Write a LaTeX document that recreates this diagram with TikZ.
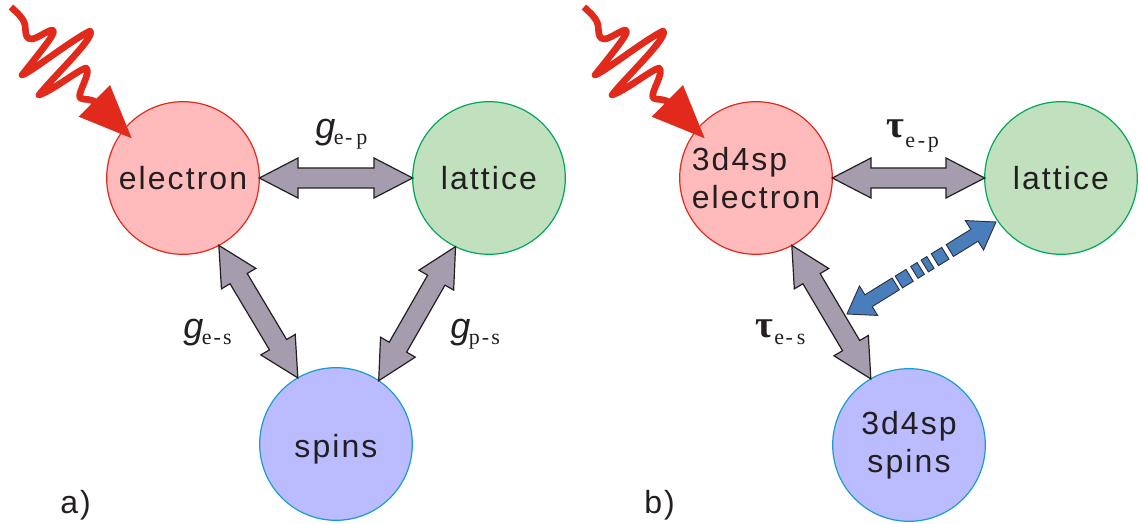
\documentclass[tikz,border=0pt]{standalone}
\usepackage{fontspec}
\usetikzlibrary{calc}
\setmainfont{Liberation Sans}
\newfontfamily\lblfont[LetterSpace=6.5]{Liberation Sans}
\newfontfamily\subfont{Liberation Serif}
\definecolor{redline}{HTML}{E12A1C}
\definecolor{redfill}{HTML}{FFBBBB}
\definecolor{greenline}{HTML}{00A85A}
\definecolor{greenfill}{HTML}{C0E0BE}
\definecolor{blueline}{HTML}{1A9CD0}
\definecolor{bluefill}{HTML}{BBBBFF}
\definecolor{arrowgray}{HTML}{A59DAD}
\definecolor{arrowblue}{HTML}{4A7DBB}
\definecolor{txt}{HTML}{231F20}
\tikzset{
  px/.style={x=0.75pt,y=-0.75pt},
  ball/.style={circle,inner sep=0pt,outer sep=0pt,minimum size=114.5pt,line width=0.9pt,align=center,text=txt,font=\lblfont\fontsize{24}{28}\selectfont},
  eball/.style={ball,draw=redline,fill=redfill},
  lball/.style={ball,draw=greenline,fill=greenfill},
  sball/.style={ball,draw=blueline,fill=bluefill},
  dblarrow/.style={draw=txt,fill=arrowgray,line width=0.9pt,line join=miter},
  bluearrow/.style={draw=txt!80!arrowblue,fill=arrowblue,line width=0.7pt,line join=miter},
  wave/.style={draw=redline,line width=5pt,line cap=butt,line join=round},
  wavehead/.style={fill=redline},
  sym/.style={inner sep=0pt,text=txt,anchor=base west},
  panel/.style={inner sep=0pt,text=txt,font=\lblfont\fontsize{24}{28}\selectfont,anchor=base west}
}
% double-headed block arrow between two named points
\newcommand{\blockarrow}[3][dblarrow]{%
  \draw[#1]
    (#2) -- ($(#2)!29pt!(#3)!15pt!90:(#3)$) -- ($(#2)!29pt!(#3)!7.5pt!90:(#3)$)
    -- ($(#3)!29pt!(#2)!7.5pt!-90:(#2)$) -- ($(#3)!29pt!(#2)!15pt!-90:(#2)$)
    -- (#3) -- ($(#3)!29pt!(#2)!15pt!90:(#2)$) -- ($(#3)!29pt!(#2)!7.5pt!90:(#2)$)
    -- ($(#2)!29pt!(#3)!7.5pt!-90:(#3)$) -- ($(#2)!29pt!(#3)!15pt!-90:(#3)$) -- cycle;}
% piece of the blue shaft between fractions #3 and #4 of the way from #1 to #2
\newcommand{\bluedash}[4]{%
  \draw[bluearrow]
    ($(#1)!#3!(#2)!5.2pt!90:(#2)$) -- ($(#1)!#4!(#2)!5.2pt!90:(#2)$)
    -- ($(#1)!#4!(#2)!5.2pt!-90:(#2)$) -- ($(#1)!#3!(#2)!5.2pt!-90:(#2)$) -- cycle;}
% arrow head and stub at end #1, shaft running to fraction #3 of the way to #2
\newcommand{\bluehead}[3]{%
  \draw[bluearrow]
    (#1) -- ($(#1)!19pt!(#2)!13pt!90:(#2)$) -- ($(#1)!19pt!(#2)!5.2pt!90:(#2)$)
    -- ($(#1)!#3!(#2)!5.2pt!90:(#2)$) -- ($(#1)!#3!(#2)!5.2pt!-90:(#2)$)
    -- ($(#1)!19pt!(#2)!5.2pt!-90:(#2)$) -- ($(#1)!19pt!(#2)!13pt!-90:(#2)$) -- cycle;}
\newcommand{\subtext}[2][-4.5pt]{\raisebox{#1}{\subfont\fontsize{16.5}{18}\selectfont #2}}
\newcommand{\gsym}[1]{{\fontsize{27}{30}\selectfont\itshape g}\kern-1pt\subtext{#1}}
\newcommand{\tausym}[2][-5.2pt]{{\subfont\fontsize{29}{32}\selectfont\bfseries τ}\kern1pt\subtext[#1]{#2}}
\newcommand{\photon}[1]{%
  \begin{scope}[shift={(#1,0)}]
    \draw[wave] (11,7) .. controls (17,13) and (23,17) .. (25,25)
      .. controls (26,36) and (26,39) .. (32,39)
      .. controls (38,38) and (47,31) .. (52,30)
      .. controls (57,31) and (50,40) .. (22,75)
      .. controls (30,73) and (70,41) .. (90,31)
      .. controls (97,36) and (50,80) .. (39,95)
      .. controls (52,91) and (78,70) .. (86,68)
      .. controls (92,72) and (77,93) .. (80,98)
      .. controls (84,101) and (92,96) .. (103,108);
    \fill[wavehead] (131.7,138.3) -- (110,85) -- (78.7,116.7) -- cycle;
  \end{scope}}
\begin{document}
\begin{tikzpicture}[px]
\useasboundingbox (0,0) rectangle (1140,524);
% panel a
\node[eball] (e1) at (183,178) {electron};
\node[lball] (l1) at (489,178) {lattice};
\node[sball] (s1) at (336,444) {\smash{\raisebox{-3.75pt}{spins}}\vphantom{spins}};
\photon{0}
\blockarrow{e1.0}{l1.180}
\blockarrow{e1.-62}{s1.120}
\blockarrow{l1.-116}{s1.56}
\node[sym] (g1) at (315,139) {\gsym{e\kern1pt-\kern3pt p}};
\node[sym] (g2) at (183,339) {\gsym{e\kern1.5pt-\kern1.5pt s}};
\node[sym] (g3) at (450,339) {\gsym{p\kern1.5pt-\kern1.5pt s}};
\node[panel] (pa) at (60,513) {a)};
% panel b
\node[eball,align=left] (e2) at (756,178) {3d4sp\\[0.5pt]electron};
\node[lball] (l2) at (1061,178) {lattice};
\node[sball] (s2) at (909,445) {3d4sp\\[0.5pt]spins};
\photon{573}
\blockarrow{e2.0}{l2.180}
\blockarrow{e2.-62}{s2.120}
\coordinate (bt) at (996,222);
\coordinate (bb) at (847,314);
\bluehead{bb}{bt}{.327}
\bluedash{bb}{bt}{.348}{.42}
\bluedash{bb}{bt}{.452}{.495}
\bluedash{bb}{bt}{.522}{.56}
\bluedash{bb}{bt}{.59}{.66}
\bluehead{bt}{bb}{.31}
\node[sym] (t1) at (886,138) {\tausym[-7.5pt]{e\kern2pt-\kern2pt p}};
\node[sym] (t2) at (755,338) {\tausym{e\kern1pt-\kern3pt s}};
\node[panel] (pb) at (644,513) {b)};
\end{tikzpicture}
\end{document}
